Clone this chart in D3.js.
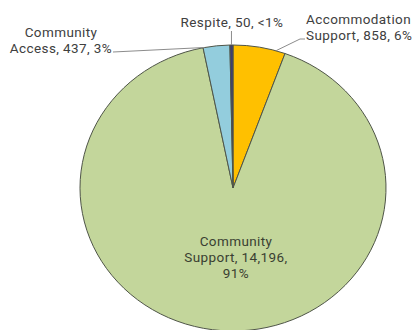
<!DOCTYPE html>
<html>
<head>
<meta charset="utf-8">
<script src="https://cdn.jsdelivr.net/npm/d3@7"></script>
<style>
  html, body { margin: 0; padding: 0; background: #fff; }
  svg { display: block; }
  text { font-family: Roboto, "Open Sans", sans-serif; letter-spacing: 0.4px; }
</style>
</head>
<body>
<svg id="chart" width="417" height="330"></svg>
<script>
// Service types and client counts
const categories = ["Accommodation Support", "Community Support", "Community Access", "Respite"];
const values = [858, 14196, 437, 50];
const percentLabels = ["6%", "91%", "3%", "<1%"];
const colors = ["#FFC000", "#C3D69B", "#93CDDD", "#3F3D72"];

const cx = 233, cy = 188;      // pie centre
const rx = 153, ry = 143;      // slightly wider than tall

const svg = d3.select("#chart");

const pie = d3.pie().sort(null).value(d => d.value).startAngle(0).endAngle(2 * Math.PI);
const data = categories.map((c, i) => ({ name: c, value: values[i], pct: percentLabels[i], color: colors[i] }));
const arcs = pie(data);

const arc = d3.arc().innerRadius(0).outerRadius(ry);

const g = svg.append("g")
  .attr("transform", `translate(${cx},${cy}) scale(${rx / ry},1)`);

g.selectAll("path")
  .data(arcs)
  .join("path")
  .attr("d", arc)
  .attr("fill", d => d.data.color)
  .attr("stroke", "#4f5548")
  .attr("stroke-width", 1)
  .attr("vector-effect", "non-scaling-stroke");

// point on the outer edge at a given pie angle (0 = 12 o'clock, clockwise)
function edgePoint(a) {
  return [cx + rx * Math.sin(a), cy - ry * Math.cos(a)];
}
const fmt = d3.format(",");

// label layout for each slice; each line is its own text element
const labels = [
  { lines: ["Accommodation", `Support, ${fmt(values[0])}, ${percentLabels[0]}`], x: 306, y: 24, anchor: "start", dy: 16 },
  { lines: ["Community", `Support, ${fmt(values[1])},`, percentLabels[1]], x: 236, y: 246, anchor: "middle", dy: 16 },
  { lines: ["Community", `Access, ${fmt(values[2])}, ${percentLabels[2]}`], x: 61, y: 37, anchor: "middle", dy: 16 },
  { lines: [`Respite, ${fmt(values[3])}, ${percentLabels[3]}`], x: 232, y: 27, anchor: "middle", dy: 0 }
];

labels.forEach((L, i) => {
  L.lines.forEach((s, k) => {
    svg.append("text")
      .attr("x", L.x).attr("y", L.y + k * L.dy)
      .attr("text-anchor", L.anchor)
      .attr("font-size", 13.5)
      .attr("fill", i === 1 ? "#3a3f32" : "#404040")
      .text(s);
  });
});

// leader lines
const lead = svg.append("g").attr("fill", "none").attr("stroke", "#8c8c8c").attr("stroke-width", 1);
// Accommodation Support: towards the outer part of its slice
{
  const a = arcs[0];
  const [px, py] = edgePoint(a.startAngle + (a.endAngle - a.startAngle) * 0.82);
  lead.append("polyline").attr("points", `${px},${py} 300,39 305,39`);
}
// Community Access: to the slice's outer corner
{
  const [px, py] = edgePoint(arcs[2].startAngle + 0.01);
  lead.append("line").attr("x1", 113).attr("y1", 52).attr("x2", px).attr("y2", py);
}
// Respite
{
  const a = arcs[3];
  const [px, py] = edgePoint((a.startAngle + a.endAngle) / 2);
  lead.append("line").attr("x1", px).attr("y1", 31).attr("x2", px).attr("y2", py);
}
</script>
</body>
</html>
